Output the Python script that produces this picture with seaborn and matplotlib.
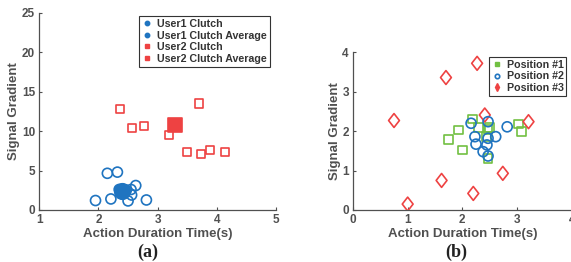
import numpy as np
import pandas as pd
import matplotlib
matplotlib.use("Agg")
import matplotlib.pyplot as plt
import seaborn as sns
from matplotlib.path import Path
from matplotlib.lines import Line2D

# ---- data ----
u1_x = [1.95, 2.15, 2.32, 2.21, 2.63, 2.81, 2.50, 2.56, 2.47, 2.38, 2.55, 2.35]
u1_y = [1.20, 4.65, 4.80, 1.40, 3.10, 1.27, 1.15, 1.90, 2.50, 2.10, 2.60, 2.60]
u1_avg_x = [2.40]
u1_avg_y = [2.40]
u2_x = [2.36, 2.56, 2.77, 3.19, 3.70, 3.50, 3.74, 3.88, 4.14]
u2_y = [12.8, 10.4, 10.7, 9.5, 13.5, 7.3, 7.1, 7.6, 7.35]
u2_avg_x = [3.30]
u2_avg_y = [10.8]

p1_x = [1.74, 1.93, 2.00, 2.19, 2.30, 2.47, 2.47, 3.02, 3.08, 2.44, 2.50]
p1_y = [1.78, 2.03, 1.52, 2.31, 2.10, 2.05, 1.31, 2.18, 1.99, 1.86, 2.10]
p2_x = [2.16, 2.47, 2.82, 2.23, 2.47, 2.61, 2.25, 2.45, 2.38, 2.47]
p2_y = [2.20, 2.24, 2.11, 1.86, 1.82, 1.86, 1.67, 1.65, 1.48, 1.37]
p3_x = [0.75, 1.70, 2.27, 2.41, 3.21, 1.62, 1.00, 2.20, 2.74]
p3_y = [2.27, 3.36, 3.72, 2.41, 2.24, 0.75, 0.15, 0.42, 0.93]

left_labels = ["User1 Clutch", "User1 Clutch Average", "User2 Clutch", "User2 Clutch Average"]
right_labels = ["Position #1", "Position #2", "Position #3"]
xlabel = "Action Duration Time(s)"
ylabel = "Signal Gradient"

BLUE = "#1f74c0"
RED = "#ee4242"
GREEN = "#72c042"
GRAY = "#505050"

sns.set_style("white")
plt.rcParams["font.family"] = ["Liberation Sans", "DejaVu Sans"]

fig = plt.figure(figsize=(5.71, 2.62), dpi=100)
axL = fig.add_axes([39.3 / 571, 1 - 210 / 262, (276 - 39.3) / 571, (210 - 12.7) / 262])
axR = fig.add_axes([353 / 571, 1 - 210 / 262, (571.7 - 353) / 571, (210 - 52.3) / 262])

diamond = Path([(0, 1), (0.78, 0), (0, -1), (-0.78, 0), (0, 1)],
               [Path.MOVETO, Path.LINETO, Path.LINETO, Path.LINETO, Path.CLOSEPOLY])

lw = 1.2
# left panel
sns.scatterplot(x=u1_x, y=u1_y, ax=axL, marker="o", s=52, facecolor="none",
                edgecolor=BLUE, linewidth=lw, zorder=3)
sns.scatterplot(x=u1_avg_x, y=u1_avg_y, ax=axL, marker="o", s=125, color=BLUE,
                edgecolor=BLUE, linewidth=lw, zorder=4)
sns.scatterplot(x=u2_x, y=u2_y, ax=axL, marker="s", s=34, facecolor="none",
                edgecolor=RED, linewidth=lw, zorder=3)
sns.scatterplot(x=u2_avg_x, y=u2_avg_y, ax=axL, marker="s", s=90, color=RED,
                edgecolor=RED, linewidth=lw, zorder=4)

# right panel
sns.scatterplot(x=p1_x, y=p1_y, ax=axR, marker="s", s=40, facecolor="none",
                edgecolor=GREEN, linewidth=lw, zorder=3)
sns.scatterplot(x=p2_x, y=p2_y, ax=axR, marker="o", s=52, facecolor="none",
                edgecolor=BLUE, linewidth=lw, zorder=4)
sns.scatterplot(x=p3_x, y=p3_y, ax=axR, marker=diamond, s=100, facecolor="none",
                edgecolor=RED, linewidth=lw, zorder=3)

for ax, xl, yl, xt, yt in [(axL, (1, 5), (0, 25), [1, 2, 3, 4, 5], [0, 5, 10, 15, 20, 25]),
                           (axR, (0, 4), (0, 4), [0, 1, 2, 3, 4], [0, 1, 2, 3, 4])]:
    ax.set_xlim(*xl)
    ax.set_ylim(*yl)
    ax.set_xticks(xt)
    ax.set_yticks(yt)
    ax.tick_params(direction="in", length=2.5, width=0.8, colors=GRAY,
                   labelsize=8.5, pad=3, left=True, bottom=True)
    for t in ax.get_xticklabels() + ax.get_yticklabels():
        t.set_fontweight("bold")
    for s in ["top", "right"]:
        ax.spines[s].set_visible(False)
    for s in ["left", "bottom"]:
        ax.spines[s].set_color(GRAY)
        ax.spines[s].set_linewidth(0.9)
    ax.set_xlabel(xlabel, fontsize=9.5, fontweight="bold", color=GRAY, labelpad=1)
    ax.set_ylabel(ylabel, fontsize=9.5, fontweight="bold", color=GRAY, labelpad=1)
    ax.patch.set_alpha(0)

# legends
hL = [Line2D([], [], ls="none", marker="o", ms=3.2, color=BLUE),
      Line2D([], [], ls="none", marker="o", ms=3.2, color=BLUE),
      Line2D([], [], ls="none", marker="s", ms=3.0, color=RED),
      Line2D([], [], ls="none", marker="s", ms=3.0, color=RED)]
legL = axL.legend(hL, left_labels, loc="upper left", bbox_to_anchor=((139 - 39.3) / 236.7, 1 - (16 - 12.7) / 197.3),
                  frameon=True, fancybox=False, edgecolor="#333333", framealpha=1,
                  prop={"weight": "bold", "size": 7.7}, handletextpad=0.4, handlelength=1.0,
                  borderpad=0.28, labelspacing=0.15, borderaxespad=0)
legL.get_frame().set_linewidth(0.8)
for t in legL.get_texts():
    t.set_color("#333333")

hR = [Line2D([], [], ls="none", marker="s", ms=3.0, color=GREEN),
      Line2D([], [], ls="none", marker="o", ms=3.2, mfc="none", mec=BLUE, mew=1.2),
      Line2D([], [], ls="none", marker="d", ms=4.0, color=RED)]
legR = axR.legend(hR, right_labels, loc="upper left",
                  bbox_to_anchor=((489 - 353) / 218.7, 1 - (57 - 52.3) / 157.7),
                  frameon=True, fancybox=False, edgecolor="#333333", framealpha=1,
                  prop={"weight": "bold", "size": 7.7}, handletextpad=0.4, handlelength=1.0,
                  borderpad=0.25, labelspacing=0.15, borderaxespad=0)
legR.get_frame().set_linewidth(0.8)
for t in legR.get_texts():
    t.set_color("#333333")

fig.text(148 / 571, 1 - 252 / 262, "(a)", ha="center", va="center",
         family=["Liberation Serif", "DejaVu Serif"], fontweight="bold", fontsize=13, color="#222222")
fig.text(456.5 / 571, 1 - 252 / 262, "(b)", ha="center", va="center",
         family=["Liberation Serif", "DejaVu Serif"], fontweight="bold", fontsize=13, color="#222222")

fig.savefig("out.png", dpi=100)
